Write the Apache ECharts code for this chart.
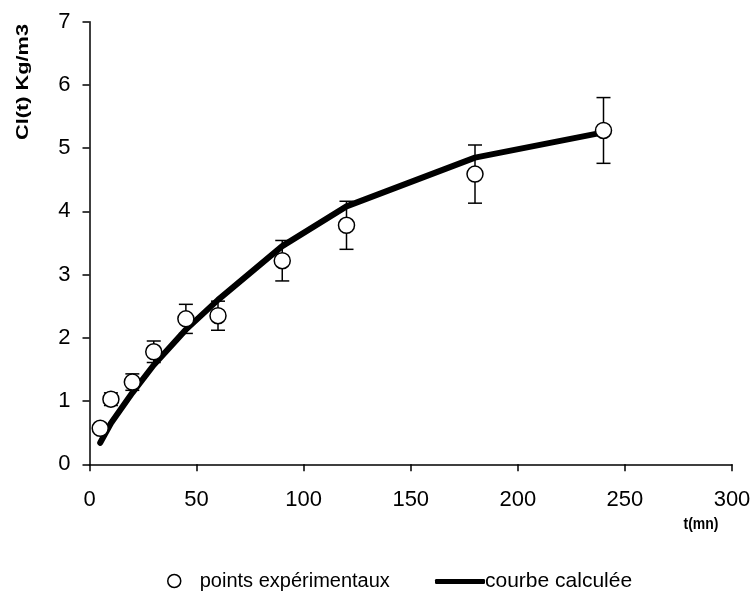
<!DOCTYPE html>
<html>
<head>
<meta charset="utf-8">
<script src="https://cdn.jsdelivr.net/npm/echarts@6/dist/echarts.min.js"></script>
<style>
  html, body { margin: 0; padding: 0; background: #fff; }
  #chart { width: 755px; height: 592px; }
</style>
</head>
<body>
<div id="chart"></div>
<script>
// Sampling times (min)
const times = [5, 10, 20, 30, 45, 60, 90, 120, 180, 240];
// Measured concentration Cl(t) (kg/m3) and its uncertainty
const measured = [0.57, 1.03, 1.30, 1.78, 2.30, 2.35, 3.22, 3.78, 4.59, 5.28];
const errors = [0.06, 0.10, 0.13, 0.17, 0.23, 0.23, 0.32, 0.38, 0.46, 0.52];
// Model output at the same times
const computed = [0.34, 0.65, 1.13, 1.57, 2.13, 2.60, 3.45, 4.08, 4.85, 5.25];

const xTicks = [0, 50, 100, 150, 200, 250, 300];
const yTicks = [0, 1, 2, 3, 4, 5, 6, 7];

const FONT = '"Liberation Sans", Arial, Helvetica, sans-serif';

const pointsData = times.map((t, i) => [t, measured[i]]);
const curveData = times.map((t, i) => [t, computed[i]]);
const errData = times.map((t, i) => [t, measured[i] - errors[i], measured[i] + errors[i]]);

const chart = echarts.init(document.getElementById('chart'), null, { renderer: 'canvas' });

const axisCommon = {
  axisLine: { show: true, lineStyle: { color: '#000', width: 1.5 } },
  axisTick: { show: true, inside: false, length: 7, lineStyle: { color: '#000', width: 1.5 } },
  splitLine: { show: false },
  axisLabel: { color: '#000', fontFamily: FONT, fontSize: 22 }
};

chart.setOption({
  animation: false,
  backgroundColor: '#fff',
  grid: { left: 89.5, right: 23, top: 21.7, bottom: 127.7, containLabel: false },
  xAxis: Object.assign({}, axisCommon, {
    type: 'value',
    min: xTicks[0],
    max: xTicks[xTicks.length - 1],
    interval: xTicks[1] - xTicks[0],
    axisLabel: Object.assign({}, axisCommon.axisLabel, { margin: 25 })
  }),
  yAxis: Object.assign({}, axisCommon, {
    type: 'value',
    min: yTicks[0],
    max: yTicks[yTicks.length - 1],
    interval: yTicks[1] - yTicks[0],
    axisLabel: Object.assign({}, axisCommon.axisLabel, { margin: 19 })
  }),
  legend: [
    {
      data: [{ name: 'points expérimentaux', icon: 'circle' }],
      left: 162, top: 566,
      itemWidth: 13, itemHeight: 14,
      itemStyle: { color: '#fff', borderColor: '#000', borderWidth: 1.5 },
      textStyle: { color: '#000', fontFamily: FONT, fontSize: 20, padding: [0, 0, 0, 14] },
      selectedMode: false
    },
    {
      data: [{ name: 'courbe calculée', icon: 'roundRect' }],
      left: 430, top: 566,
      itemWidth: 50, itemHeight: 5,
      itemStyle: { color: '#000' },
      textStyle: { color: '#000', fontFamily: FONT, fontSize: 21, padding: [0, 0, 0, -5] },
      selectedMode: false
    }
  ],
  graphic: [
    {
      type: 'text',
      x: 701, y: 525,
      scaleY: 1.15,
      style: { text: 't(mn)', fill: '#000', font: 'bold 14px ' + FONT, align: 'center', verticalAlign: 'middle' }
    },
    {
      type: 'text',
      x: 23, y: 82,
      rotation: Math.PI / 2,
      scaleX: 1.28,
      style: {
        text: 'Cl(t) Kg/m3', fill: '#000', font: 'bold 17px ' + FONT,
        align: 'center', verticalAlign: 'middle'
      }
    }
  ],
  series: [
    {
      name: 'erreurs',
      type: 'custom',
      z: 1,
      silent: true,
      data: errData,
      renderItem: function (params, api) {
        const x = api.value(0);
        const lo = api.coord([x, api.value(1)]);
        const hi = api.coord([x, api.value(2)]);
        const cap = 7;
        const style = { stroke: '#000', lineWidth: 1.5 };
        return {
          type: 'group',
          children: [
            { type: 'line', shape: { x1: lo[0], y1: lo[1], x2: hi[0], y2: hi[1] }, style: style },
            { type: 'line', shape: { x1: hi[0] - cap, y1: hi[1], x2: hi[0] + cap, y2: hi[1] }, style: style },
            { type: 'line', shape: { x1: lo[0] - cap, y1: lo[1], x2: lo[0] + cap, y2: lo[1] }, style: style }
          ]
        };
      }
    },
    {
      name: 'courbe calculée',
      type: 'line',
      z: 2,
      data: curveData,
      showSymbol: false,
      symbol: 'none',
      lineStyle: { color: '#000', width: 6, cap: 'round', join: 'round' },
      itemStyle: { color: '#000' }
    },
    {
      name: 'points expérimentaux',
      type: 'scatter',
      z: 3,
      data: pointsData,
      symbol: 'circle',
      symbolSize: 16,
      itemStyle: { color: '#fff', borderColor: '#000', borderWidth: 1.5, opacity: 1 }
    }
  ]
});
</script>
</body>
</html>
